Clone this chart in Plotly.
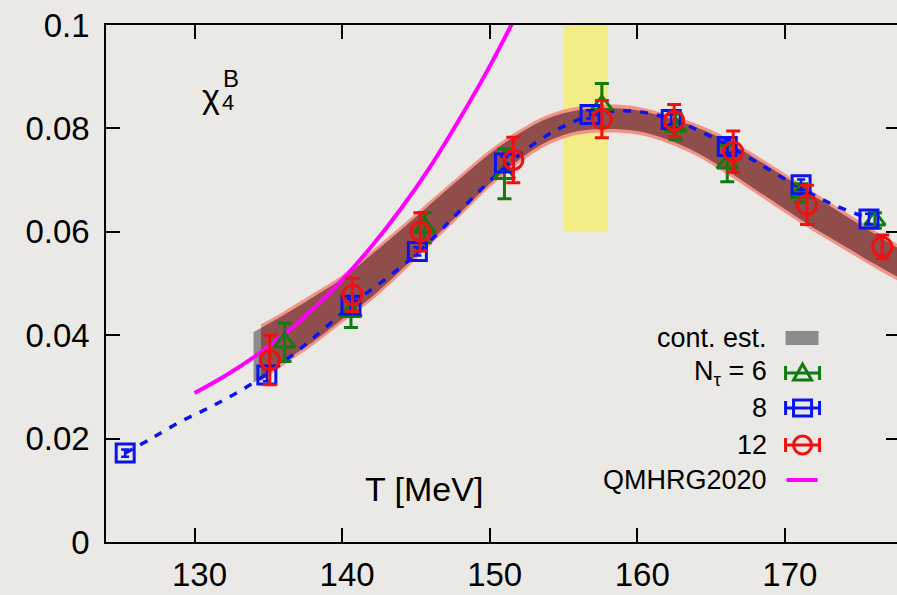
import plotly.graph_objects as go

# ---------------- data ----------------
# N_tau = 6 (green triangles)
T6 = [136.1, 140.6, 145.6, 151.0, 157.6, 162.6, 166.1, 171.1, 176.1]
v6 = [0.0386, 0.0445, 0.0608, 0.0712, 0.0845, 0.0803, 0.0732, 0.0675, 0.0622]
e6 = [0.0037, 0.0030, 0.0029, 0.0048, 0.0042, 0.0025, 0.0035, 0.0018, 0.0015]

# N_tau = 8 (blue squares)
T8 = [125.3, 134.9, 140.6, 145.1, 151.0, 156.8, 162.3, 166.1, 171.1, 175.7]
v8 = [0.0172, 0.0323, 0.0458, 0.0562, 0.0733, 0.0827, 0.0817, 0.0765, 0.0691, 0.0625]
e8 = [0.0007, 0.0012, 0.0012, 0.0008, 0.0012, 0.0008, 0.0010, 0.0012, 0.0010, 0.0010]

# N_tau = 12 (red circles)
T12 = [135.1, 140.7, 145.3, 151.6, 157.6, 162.5, 166.5, 171.5, 176.6]
v12 = [0.0352, 0.0478, 0.0600, 0.0739, 0.0818, 0.0815, 0.0755, 0.0652, 0.0571]
e12 = [0.0048, 0.0032, 0.0037, 0.0044, 0.0036, 0.0031, 0.0040, 0.0038, 0.0023]

# N_tau = 8 fit (blue dashed)
Tfit = [125.3, 127, 129, 131, 133, 135, 137, 139, 141, 143, 145, 147, 149, 151,
        153, 155, 157, 159, 161, 163, 165, 167, 169, 171, 173, 175, 175.8]
vfit = [0.0172, 0.0199, 0.0232, 0.0260, 0.0291, 0.0327, 0.0370, 0.0418, 0.0467,
        0.0510, 0.0556, 0.0612, 0.0670, 0.0725, 0.0770, 0.0804, 0.0826, 0.0834,
        0.0828, 0.0810, 0.0784, 0.0753, 0.0719, 0.0686, 0.0656, 0.0633, 0.0625]

# QMHRG2020 (magenta)
Thrg = [130, 132, 134, 136, 138, 140, 142, 144, 146, 148, 150, 152]
vhrg = [0.0288, 0.0320, 0.0357, 0.0400, 0.0450, 0.0507, 0.0572, 0.0645,
        0.0727, 0.0820, 0.0920, 0.1030]

# outer (red) band
Tband = [134.5, 136, 138, 140, 142, 144, 146, 148, 150, 152, 154, 156, 158,
         160, 162, 164, 166, 168, 170, 172, 174, 176, 178]
band_lo = [0.0311, 0.0341, 0.0380, 0.0424, 0.0467, 0.0519, 0.0575, 0.0630,
           0.0686, 0.0733, 0.0769, 0.0788, 0.0792, 0.0788, 0.0772, 0.0747,
           0.0713, 0.0675, 0.0637, 0.0600, 0.0566, 0.0532, 0.0500]
band_hi = [0.0421, 0.0445, 0.0480, 0.0516, 0.0563, 0.0611, 0.0661, 0.0710,
           0.0758, 0.0797, 0.0827, 0.0842, 0.0846, 0.0842, 0.0828, 0.0809,
           0.0783, 0.0749, 0.0713, 0.0676, 0.0640, 0.0604, 0.0570]

# continuum estimate (grey band)
Tcont = [134, 134.5, 136, 138, 140, 142, 144, 146, 148, 150, 152, 154, 156,
         158, 160, 162, 164, 166, 168, 170, 172, 174, 176, 178]
cont_lo = [0.0308, 0.0318, 0.0348, 0.0387, 0.0431, 0.0474, 0.0526, 0.0582,
           0.0637, 0.0693, 0.0740, 0.0776, 0.0795, 0.0799, 0.0795, 0.0779,
           0.0754, 0.0720, 0.0682, 0.0644, 0.0607, 0.0573, 0.0539, 0.0507]
cont_hi = [0.0406, 0.0414, 0.0438, 0.0473, 0.0509, 0.0556, 0.0604, 0.0654,
           0.0703, 0.0751, 0.0790, 0.0820, 0.0835, 0.0839, 0.0835, 0.0821,
           0.0802, 0.0776, 0.0742, 0.0706, 0.0669, 0.0633, 0.0597, 0.0563]

# Tc band
Tc_lo, Tc_hi = 155.0, 158.0
Tc_ylo, Tc_yhi = 0.06, 0.1

x_ticks = [130, 140, 150, 160, 170]
y_ticks = [0, 0.02, 0.04, 0.06, 0.08, 0.1]
y_ticktext = ["0", "0.02", "0.04", "0.06", "0.08", "0.1"]

legend_labels = ["cont. est.", "N<sub>τ</sub> = 6", "8", "12", "QMHRG2020"]

# ---------------- styles ----------------
BG = "#ebe9e5"
FONT = "Liberation Sans, Arial, Helvetica, sans-serif"
GREEN = "#117a11"
BLUE = "#0a14f0"
RED = "#f01010"
MAG = "#ff00ff"
GREY = "#8c8c8c"

fig = go.Figure()

# grey continuum band (full)
fig.add_trace(go.Scatter(x=Tcont, y=cont_lo, mode="lines", line=dict(width=0),
                         showlegend=False, hoverinfo="skip", line_shape="spline"))
fig.add_trace(go.Scatter(x=Tcont, y=cont_hi, mode="lines", line=dict(width=0),
                         fill="tonexty", fillcolor=GREY, showlegend=False,
                         hoverinfo="skip", line_shape="spline"))
# red outer band
fig.add_trace(go.Scatter(x=Tband, y=band_lo, mode="lines", line=dict(width=0),
                         showlegend=False, hoverinfo="skip", line_shape="spline"))
fig.add_trace(go.Scatter(x=Tband, y=band_hi, mode="lines", line=dict(width=0),
                         fill="tonexty", fillcolor="rgba(240,140,130,0.92)",
                         showlegend=False, hoverinfo="skip", line_shape="spline"))
# dark overlap (continuum inside red band)
fig.add_trace(go.Scatter(x=Tcont[1:], y=cont_lo[1:], mode="lines", line=dict(width=0),
                         showlegend=False, hoverinfo="skip", line_shape="spline"))
fig.add_trace(go.Scatter(x=Tcont[1:], y=cont_hi[1:], mode="lines", line=dict(width=0),
                         fill="tonexty", fillcolor="rgba(135,72,72,0.92)",
                         showlegend=False, hoverinfo="skip", line_shape="spline"))

# QMHRG2020
fig.add_trace(go.Scatter(x=Thrg, y=vhrg, mode="lines", line=dict(color=MAG, width=4),
                         line_shape="spline", showlegend=False))
# fit line
fig.add_trace(go.Scatter(x=Tfit, y=vfit, mode="lines",
                         line=dict(color=BLUE, width=3.5, dash="8px,9px"),
                         line_shape="spline", showlegend=False))

# data points
fig.add_trace(go.Scatter(x=T6, y=v6, mode="markers",
                         marker=dict(symbol="triangle-up-open", size=18, color=GREEN,
                                     line=dict(width=3, color=GREEN)),
                         error_y=dict(type="data", array=e6, color=GREEN, thickness=3, width=7),
                         showlegend=False))
fig.add_trace(go.Scatter(x=T8, y=v8, mode="markers",
                         marker=dict(symbol="square-open", size=18, color=BLUE,
                                     line=dict(width=3, color=BLUE)),
                         error_y=dict(type="data", array=e8, color=BLUE, thickness=2.5, width=4),
                         showlegend=False))
fig.add_trace(go.Scatter(x=T12, y=v12, mode="markers",
                         marker=dict(symbol="circle-open", size=19, color=RED,
                                     line=dict(width=3, color=RED)),
                         error_y=dict(type="data", array=e12, color=RED, thickness=3, width=7),
                         showlegend=False))

# trace on the right-hand tick axis (invisible)
fig.add_trace(go.Scatter(x=x_ticks, y=[y_ticks[1]] * len(x_ticks), yaxis="y2",
                         mode="lines", line=dict(width=0), showlegend=False,
                         hoverinfo="skip"))

shapes = []
# Tc band (below traces)
shapes.append(dict(type="rect", xref="x", yref="y", x0=Tc_lo, x1=Tc_hi, y0=Tc_ylo, y1=Tc_yhi,
                   fillcolor="rgba(250,240,60,0.55)", line=dict(width=0), layer="below"))

# ---------------- manual legend (text left, key right) ----------------
leg_x_text = 168.9
leg_x_key = 171.2
leg_rows = [0.03946, 0.03269, 0.02592, 0.01876, 0.01199]
annotations = []
for lab, yy in zip(legend_labels, leg_rows):
    annotations.append(dict(x=leg_x_text, y=yy, xref="x", yref="y", text=lab,
                            showarrow=False, xanchor="right", yanchor="middle",
                            font=dict(size=27, color="black", family=FONT)))

def pix(shape_type, yy, **kw):
    d = dict(type=shape_type, xref="x", yref="y", xsizemode="pixel", ysizemode="pixel",
             xanchor=leg_x_key, yanchor=yy, layer="above")
    d.update(kw)
    return d

# cont. est. key
shapes.append(pix("rect", leg_rows[0], x0=-17, x1=16, y0=-7, y1=7,
                  fillcolor=GREY, line=dict(width=0)))
# errorbar keys
for yy, col in zip(leg_rows[1:4], [GREEN, BLUE, RED]):
    shapes.append(pix("line", yy, x0=-17, x1=17, y0=0, y1=0, line=dict(color=col, width=3)))
    shapes.append(pix("line", yy, x0=-17, x1=-17, y0=-7, y1=7, line=dict(color=col, width=3)))
    shapes.append(pix("line", yy, x0=17, x1=17, y0=-7, y1=7, line=dict(color=col, width=3)))
# triangle
shapes.append(pix("path", leg_rows[1], path="M -9,-7 L 9,-7 L 0,9 Z",
                  line=dict(color=GREEN, width=3)))
# square
shapes.append(pix("rect", leg_rows[2], x0=-9, x1=9, y0=-8, y1=8, line=dict(color=BLUE, width=3)))
# circle
shapes.append(pix("circle", leg_rows[3], x0=-9, x1=9, y0=-9, y1=9, line=dict(color=RED, width=3)))
# magenta line
shapes.append(pix("line", leg_rows[4], x0=-16, x1=15, y0=0, y1=0, line=dict(color=MAG, width=4)))

# chi_4^B label
annotations.append(dict(x=131.13, y=0.0862, xref="x", yref="y", text="χ", showarrow=False,
                        xanchor="center", yanchor="middle",
                        font=dict(size=34, color="black", family=FONT)))
annotations.append(dict(x=132.28, y=0.0850, xref="x", yref="y", text="4", showarrow=False,
                        xanchor="center", yanchor="middle",
                        font=dict(size=22, color="black", family=FONT)))
annotations.append(dict(x=132.49, y=0.0896, xref="x", yref="y", text="B", showarrow=False,
                        xanchor="center", yanchor="middle",
                        font=dict(size=24, color="black", family=FONT)))
# axis title inside plot
annotations.append(dict(x=145.57, y=0.01025, xref="x", yref="y", text="T [MeV]",
                        showarrow=False, xanchor="center", yanchor="middle",
                        font=dict(size=34, color="black", family=FONT)))

fig.update_layout(
    width=897, height=595,
    margin=dict(l=106, r=0, t=25, b=53, autoexpand=False),
    paper_bgcolor=BG, plot_bgcolor=BG,
    font=dict(family=FONT, color="black"),
    showlegend=False,
    shapes=shapes,
    annotations=annotations,
    xaxis=dict(range=[124, 177.6], tickvals=x_ticks, ticks="inside", ticklen=14,
               tickwidth=2, tickcolor="black", showline=True, linecolor="black",
               linewidth=1.5, mirror="ticks", showgrid=False, zeroline=False,
               tickfont=dict(size=33, family=FONT), ticklabelshift=5,
               ticklabelstandoff=3, automargin=False),
    yaxis=dict(range=[0, 0.1], tickvals=y_ticks, ticktext=y_ticktext, ticks="inside",
               ticklen=14, tickwidth=2, tickcolor="black", showline=True,
               linecolor="black", linewidth=1.5, mirror=False, showgrid=False,
               zeroline=False, tickfont=dict(size=33, family=FONT),
               ticklabelstandoff=8, automargin=False),
    yaxis2=dict(range=[0, 0.1], tickmode="array", tickvals=y_ticks, overlaying="y",
                side="right", anchor="x", ticks="inside", ticklen=11, tickwidth=2,
                tickcolor="black", showline=False, showticklabels=False,
                showgrid=False, zeroline=False),
)

fig.write_html("out.html")
